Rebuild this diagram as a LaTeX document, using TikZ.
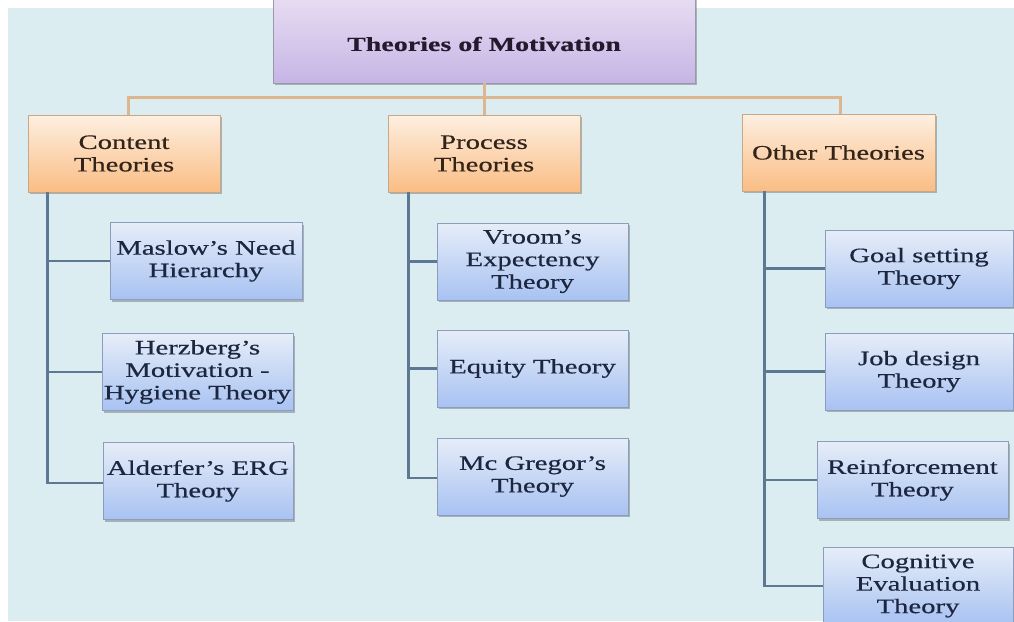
\documentclass[tikz,border=0pt]{standalone}
\usepackage{fontspec}
\setmainfont{Liberation Serif}[FakeStretch=1.4,FakeBold=0.5]
\usetikzlibrary{shadows,calc}
\definecolor{bgblue}{HTML}{DCEDF2}
\definecolor{topA}{HTML}{EFE6F5}
\definecolor{topB}{HTML}{C6B5E5}
\definecolor{topEdge}{HTML}{9C98AC}
\definecolor{orA}{HTML}{FDEFE1}
\definecolor{orB}{HTML}{FABD84}
\definecolor{orEdge}{HTML}{C9A888}
\definecolor{blA}{HTML}{E6EDF8}
\definecolor{blB}{HTML}{A8C2F2}
\definecolor{blEdge}{HTML}{8C9CBC}
\definecolor{orLine}{HTML}{DDB58E}
\definecolor{blLine}{HTML}{5C7892}
\definecolor{txtOr}{HTML}{33241A}
\definecolor{txtBl}{HTML}{1C263E}
\definecolor{txtTop}{HTML}{231A2E}
\tikzset{
  boxfont/.style={font=\fontsize{20.5}{22.5}\selectfont},
  shad/.style={drop shadow={shadow xshift=1.5pt,shadow yshift=-2pt,fill=black,opacity=0.25}},
  topbox/.style={draw=topEdge,line width=0.8pt,top color=topA,bottom color=topB,shad,inner sep=0pt},
  catbox/.style={draw=orEdge,line width=0.8pt,top color=orA,bottom color=orB,shad,
    boxfont,text=txtOr,align=center,inner sep=0pt,minimum height=77pt},
  theorybox/.style={draw=blEdge,line width=0.8pt,top color=blA,bottom color=blB,shad,
    boxfont,text=txtBl,align=center,inner sep=0pt,minimum height=77pt},
  orconn/.style={draw=orLine,line width=3pt},
  blconn/.style={draw=blLine,line width=2.5pt}
}
\begin{document}
\begin{tikzpicture}[x=1pt,y=-1pt]
\useasboundingbox (0,0) rectangle (1014,621);
\clip (0,0) rectangle (1014,621);
\fill[white] (0,0) rectangle (1014,621);
\fill[bgblue] (8,8) rectangle (1014,621);

% top box (clipped at the top of the picture)
\node[topbox,minimum width=422pt,minimum height=106pt] (top) at (484,30) {};
\node[font=\fontsize{20}{22}\selectfont\bfseries,text=txtTop,inner sep=0pt] (toptext) at (484,44) {Theories of Motivation};

% category boxes
\node[catbox,minimum width=192pt] (content) at (124,153.5) {Content\\Theories};
\node[catbox,minimum width=192pt] (process) at (484,153.5) {Process\\Theories};
\node[catbox,minimum width=193pt] (other) at (838.5,152.5) {Other Theories};

% orange connectors
\coordinate (cIn) at ([xshift=4pt]content.north);
\coordinate (oIn) at ([xshift=2pt]other.north);
\draw[orconn] (top.south) -- (process.north);
\draw[orconn] (cIn) |- ($(oIn)+(0,-16)$) -- (oIn);

% content theories
\node[theorybox,minimum width=192pt] (maslow) at (206,261) {Maslow’s Need\\Hierarchy};
\node[theorybox,minimum width=191pt] (herz) at (197.5,372) {Herzberg’s\\Motivation -\\Hygiene Theory};
\node[theorybox,minimum width=190pt] (alder) at (198,481) {Alderfer’s ERG\\Theory};

% process theories
\node[theorybox,minimum width=191pt] (vroom) at (532.5,261.5) {Vroom’s\\Expectency\\Theory};
\node[theorybox,minimum width=191pt] (equity) at (532.5,368.5) {Equity Theory};
\node[theorybox,minimum width=191pt] (mcg) at (532.5,476.5) {Mc Gregor’s\\Theory};

% other theories
\node[theorybox,minimum width=188pt] (goal) at (919,268.5) {Goal setting\\Theory};
\node[theorybox,minimum width=188pt] (job) at (919,371.5) {Job design\\Theory};
\node[theorybox,minimum width=191pt] (reinf) at (912.5,480) {Reinforcement\\Theory};
\node[theorybox,minimum width=190pt] (cog) at (918,586) {Cognitive\\Evaluation\\Theory};

% blue connectors
\coordinate (cv) at ([xshift=20pt]content.south west);
\coordinate (pv) at ([xshift=21pt]process.south west);
\coordinate (ov) at ([xshift=23pt]other.south west);

\draw[blconn] (cv) |- ([yshift=-2pt]alder.west);
\draw[blconn] (cv |- maslow.west) -- (maslow.west);
\draw[blconn] (cv |- herz.west) -- (herz.west);

\draw[blconn] (pv) |- ([yshift=-1.5pt]mcg.west);
\draw[blconn] (pv |- vroom.west) -- (vroom.west);
\draw[blconn] (pv |- equity.west) -- (equity.west);

\draw[blconn] (ov) |- (cog.west);
\draw[blconn] (ov |- goal.west) -- (goal.west);
\draw[blconn] (ov |- job.west) -- (job.west);
\draw[blconn] (ov |- reinf.west) -- (reinf.west);
\end{tikzpicture}
\end{document}
